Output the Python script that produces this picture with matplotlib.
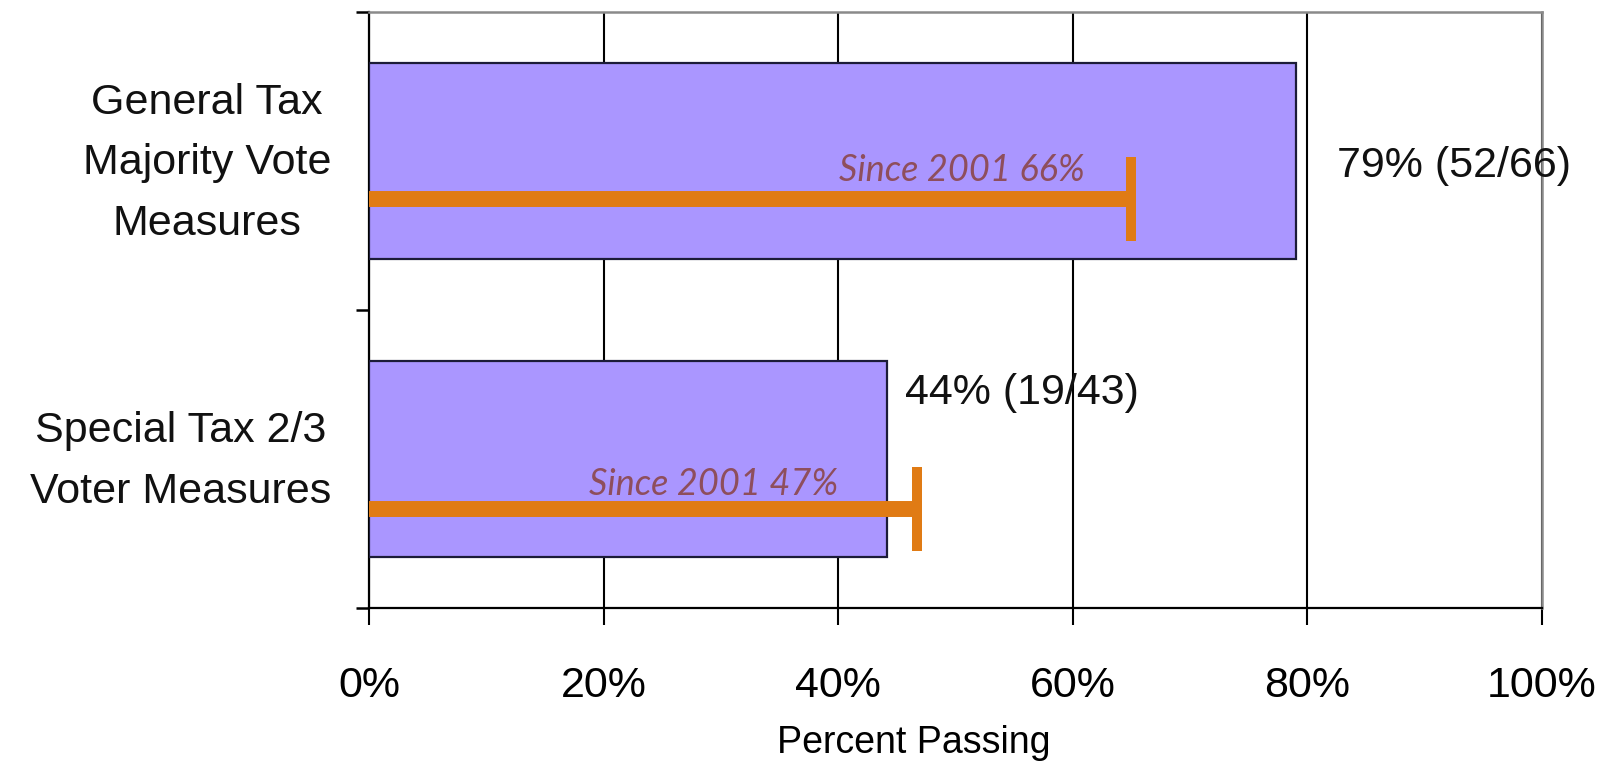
import matplotlib
matplotlib.use("Agg")
import matplotlib.pyplot as plt

# ---- data ----
categories = ["Special Tax 2/3\nVoter Measures", "General Tax\nMajority Vote\nMeasures"]
pct_passing = [44.2, 79.0]
value_labels = ["44% (19/43)", "79% (52/66)"]
since2001_pct = [46.7, 65.0]
since2001_labels = ["Since 2001 47%", "Since 2001 66%"]
xticks = [0, 20, 40, 60, 80, 100]
xtick_labels = ["0%", "20%", "40%", "60%", "80%", "100%"]

plt.rcParams['font.family'] = ['Liberation Sans', 'DejaVu Sans']

fig = plt.figure(figsize=(16.14, 7.66), dpi=100)
ax = fig.add_axes([369/1614, 1 - 608/766, (1542-369)/1614, (608-12)/766])

ypos = [0, 1]
ax.barh(ypos, pct_passing, height=0.66, color='#AA96FF', edgecolor='#1c1c38',
        linewidth=1.6, zorder=3)

# orange "since 2001" markers
line_off = [-0.168, -0.128]
for y, v, off, lab in zip(ypos, since2001_pct, line_off, since2001_labels):
    yl = y + off
    ax.hlines(yl, 0, v, color='#E07B14', linewidth=11.5, capstyle='butt', zorder=4)
    ax.vlines(v, yl - 0.142, yl + 0.142, color='#E07B14', linewidth=7.2,
              capstyle='butt', zorder=4)

text_pos = [(40.0, -0.121), (61.0, 0.933)]
for (tx, ty), lab in zip(text_pos, since2001_labels):
    ax.text(tx, ty, lab, ha='right', va='baseline', fontsize=26, style='italic',
            family=['Lato', 'DejaVu Sans'], color='#8E4E5C', zorder=5)

val_pos = [(45.7, 0.222), (82.5, 0.982)]
for (tx, ty), lab in zip(val_pos, value_labels):
    ax.text(tx, ty, lab, ha='left', va='center', fontsize=31, color='#111111', zorder=5)

ax.set_xlim(0, 100)
ax.set_ylim(-0.5, 1.5)

ax.set_xticks(xticks)
ax.set_xticklabels(xtick_labels, fontsize=31)
ax.tick_params(axis='x', length=12, width=1.5, direction='out', pad=30, color='black')

# category labels (multi-line, centred), placed left of the axis
ax.set_yticks(ypos)
ax.set_yticklabels([])
ax.tick_params(axis='y', which='major', length=0)
for y, lab in zip(ypos, categories):
    ax.text(-0.032, y - 0.008, lab, transform=ax.get_yaxis_transform(),
            ha='right', va='center', multialignment='center', linespacing=1.67,
            fontsize=31, color='#111111')
ax.set_yticks([-0.5, 0.5, 1.5], minor=True)
ax.tick_params(axis='y', which='minor', length=9.4, width=1.8, direction='out', color='black')

ax.grid(axis='x', color='black', linewidth=1.5, zorder=1)
ax.set_axisbelow(True)

for side in ['left', 'bottom']:
    ax.spines[side].set_color('black')
    ax.spines[side].set_linewidth(1.6)
for side in ['top', 'right']:
    ax.spines[side].set_color('#8a8a8a')
    ax.spines[side].set_linewidth(1.8)

xl = ax.set_xlabel("Percent Passing", fontsize=27)
xl.set_va('center')
ax.xaxis.set_label_coords(0.464, (608 - 743) / 596)

fig.savefig("out.png", dpi=100)
